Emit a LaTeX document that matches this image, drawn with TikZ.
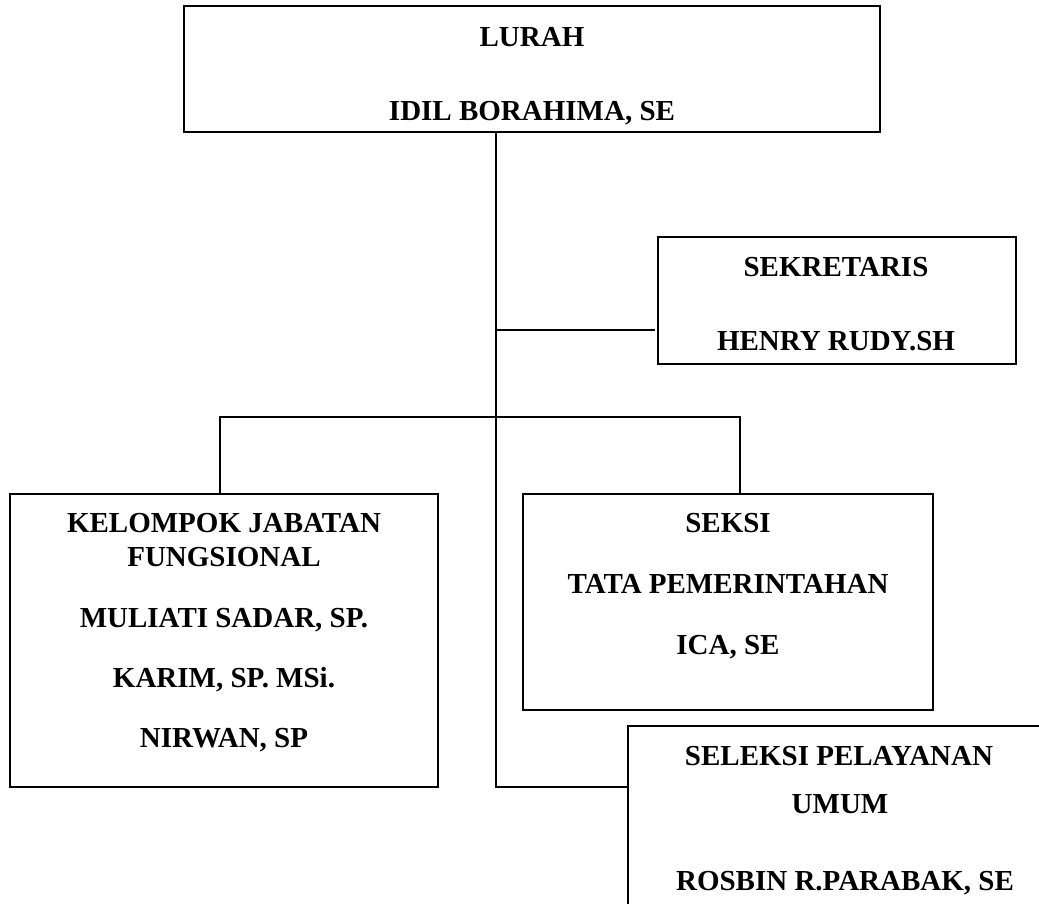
\documentclass[tikz,border=0pt]{standalone}
\usepackage{fontspec}
\setmainfont{Liberation Serif}
\begin{document}
\begin{tikzpicture}[x=1pt,y=-1pt,
  boxstyle/.style={draw=black, line width=1.8pt, inner sep=0pt, outer sep=0pt, anchor=north west, fill=none},
  lbl/.style={font=\fontsize{29}{34}\selectfont\bfseries, anchor=base, inner sep=0pt, text=black},
  wire/.style={draw=black, line width=1.8pt}]
\useasboundingbox (0,0) rectangle (1039,903);
\clip (0,0) rectangle (1039,903);

% boxes
\node[boxstyle, line width=2.6pt, minimum width=696pt, minimum height=126pt] (lurah) at (184,6) {};
\node[boxstyle, minimum width=358pt, minimum height=127pt] (sek) at (658,237) {};
\node[boxstyle, minimum width=428pt, minimum height=293pt] (kjf) at (10,494) {};
\node[boxstyle, minimum width=410pt, minimum height=216pt] (seksi) at (523,494) {};
\node[boxstyle, minimum width=424pt, minimum height=260pt] (spu) at (628,726) {};

% texts
\node[lbl] (t1) at (532,46) {LURAH};
\node[lbl] (t2) at (532,120) {IDIL BORAHIMA, SE};
\node[lbl] (t3) at (836,276) {SEKRETARIS};
\node[lbl] (t4) at (836,350) {HENRY RUDY.SH};
\node[lbl] (t5) at (224,532) {KELOMPOK JABATAN};
\node[lbl] (t6) at (224,566) {FUNGSIONAL};
\node[lbl] (t7) at (224,627) {MULIATI SADAR, SP.};
\node[lbl] (t8) at (224,687) {KARIM, SP. MSi.};
\node[lbl] (t9) at (224,747) {NIRWAN, SP};
\node[lbl] (t10) at (728,532) {SEKSI};
\node[lbl] (t11) at (728,593) {TATA PEMERINTAHAN};
\node[lbl] (t12) at (728,654) {ICA, SE};
\node[lbl] (t13) at (839,765) {SELEKSI PELAYANAN};
\node[lbl] (t14) at (840,813) {UMUM};
\node[lbl] (t15) at (845,890) {ROSBIN R.PARABAK, SE};

% junctions
\coordinate (j1) at (496,330);
\coordinate (j2) at (496,417);
\coordinate (j3) at (496,787);
\coordinate (c1) at (220,417);
\coordinate (c2) at (740,417);

% connectors
\draw[wire] (lurah.south -| j1) -- (j3) -- (j3 -| spu.west);
\draw[wire, shorten >=3pt] (j1) -- (j1 -| sek.west);
\draw[wire] (kjf.north -| c1) -- (c1) -- (c2) -- (seksi.north -| c2);
\end{tikzpicture}
\end{document}
